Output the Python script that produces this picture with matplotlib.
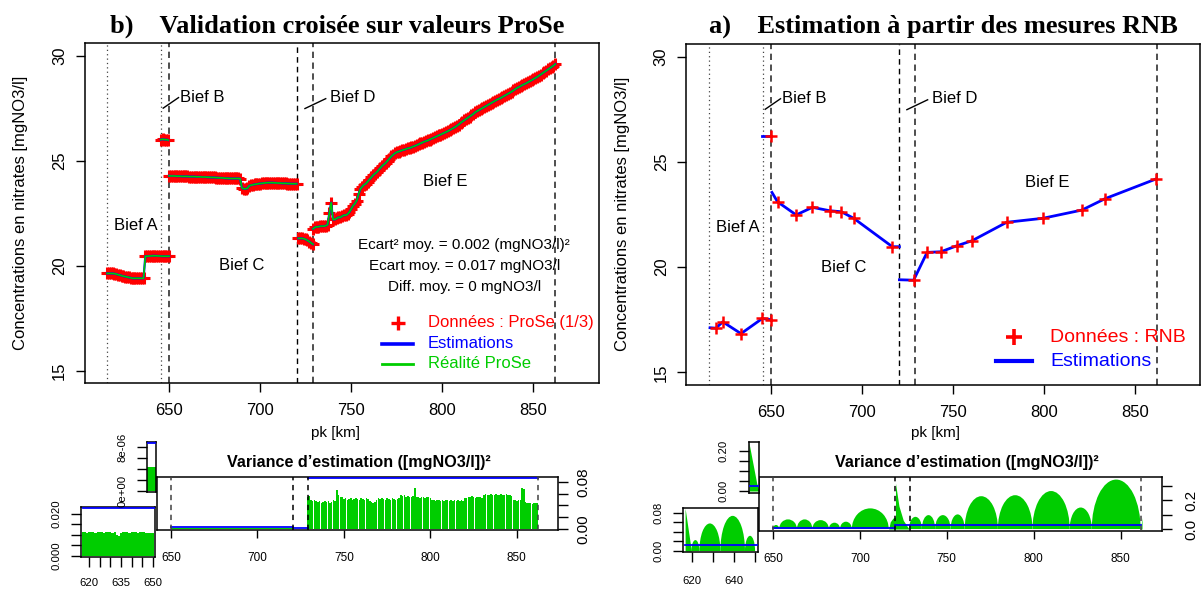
import numpy as np
import matplotlib as mpl
mpl.use('Agg')
import matplotlib.pyplot as plt
from matplotlib.lines import Line2D
from matplotlib.patches import Ellipse, Rectangle

plt.rcParams['font.family'] = 'sans-serif'
plt.rcParams['font.sans-serif'] = ['Liberation Sans', 'DejaVu Sans']
plt.rcParams['axes.linewidth'] = 1.1

RED = '#FF0000'
BLUE = '#0000FF'
GREEN = '#00CD00'

# ---------------- data ----------------
main_xticks = [650, 700, 750, 800, 850]
main_yticks = [15, 20, 25, 30]
bief_dotted = [616, 645.5]
bief_dashed = [650, 720.5, 729, 862]

# ProSe "reality" (1 value per km)
pro_A_pk = np.arange(616, 651)
pro_A = [19.63, 19.63, 19.63, 19.63, 19.62, 19.60, 19.57, 19.55, 19.52, 19.50,
         19.48, 19.46, 19.44, 19.42, 19.40, 19.40, 19.40, 19.40, 19.40, 19.40,
         19.40, 20.45, 20.45, 20.46, 20.46, 20.47, 20.47, 20.47, 20.46, 20.46,
         20.45, 20.45, 20.45, 20.45, 20.45]
pro_B_pk = [645.5, 646.5, 647.5, 648.5, 649.5]
pro_B = [26.0, 26.02, 26.0, 26.0, 25.98]
pro_C_pk = np.arange(650, 721)
pro_C = [24.28, 24.27, 24.27, 24.27, 24.26, 24.26, 24.26, 24.25, 24.25, 24.25,
         24.25, 24.24, 24.24, 24.24, 24.24, 24.23, 24.23, 24.23, 24.22, 24.22,
         24.22, 24.21, 24.21, 24.20, 24.20, 24.20, 24.19, 24.19, 24.18, 24.18,
         24.17, 24.16, 24.16, 24.15, 24.15, 24.15, 24.15, 24.15, 24.15, 24.14,
         23.70, 23.66, 23.66, 23.68, 23.80, 23.83, 23.85, 23.87, 23.88, 23.90,
         23.91, 23.92, 23.93, 23.94, 23.95, 23.95, 23.95, 23.95, 23.94, 23.94,
         23.93, 23.93, 23.92, 23.92, 23.92, 23.91, 23.91, 23.90, 23.90, 23.90,
         23.90]
pro_D_pk = np.arange(721, 730)
pro_D = [21.30, 21.30, 21.30, 21.28, 21.25, 21.20, 21.15, 21.08, 21.02]
pro_E_pk = np.arange(729, 863)
pro_E = [21.75, 21.82, 21.85, 21.85, 21.88, 21.88, 21.88, 21.90, 21.95, 22.50,
         23.00, 22.20, 22.20, 22.25, 22.30, 22.30, 22.35, 22.40, 22.40, 22.45,
         22.55, 22.70, 22.85, 22.95, 23.10, 23.40, 23.65, 23.75, 23.85, 23.90,
         24.00, 24.10, 24.20, 24.30, 24.38, 24.45, 24.55, 24.65, 24.75, 24.82,
         24.90, 25.00, 25.10, 25.20, 25.28, 25.35, 25.40, 25.43, 25.46, 25.50,
         25.52, 25.55, 25.58, 25.60, 25.63, 25.67, 25.70, 25.74, 25.78, 25.82,
         25.86, 25.90, 25.93, 25.96, 26.00, 26.04, 26.08, 26.12, 26.16, 26.20,
         26.24, 26.28, 26.32, 26.36, 26.40, 26.45, 26.50, 26.55, 26.60, 26.66,
         26.72, 26.80, 26.86, 26.92, 26.98, 27.04, 27.10, 27.16, 27.22, 27.30,
         27.35, 27.40, 27.45, 27.50, 27.55, 27.60, 27.65, 27.70, 27.75, 27.80,
         27.85, 27.90, 27.94, 27.98, 28.03, 28.08, 28.13, 28.18, 28.23, 28.28,
         28.34, 28.40, 28.46, 28.50, 28.55, 28.60, 28.64, 28.68, 28.73, 28.78,
         28.83, 28.88, 28.93, 28.98, 29.04, 29.10, 29.16, 29.22, 29.28, 29.34,
         29.40, 29.46, 29.52, 29.60]

# ProSe estimation variance
pro_varA_pk = np.arange(617, 651)
pro_varA = [0.0112, 0.0113, 0.0111, 0.0112, 0.0113, 0.0112, 0.0111, 0.0112, 0.0113, 0.0112,
            0.0111, 0.0112, 0.0113, 0.0112, 0.0111, 0.0112, 0.0100, 0.0094, 0.0110, 0.0112,
            0.0113, 0.0112, 0.0111, 0.0112, 0.0113, 0.0112, 0.0111, 0.0112, 0.0113, 0.0112,
            0.0111, 0.0110, 0.0108, 0.0107]
pro_varB_pk = [645.5, 646.5, 647.5, 648.5, 649.5]
pro_varB = [4.4e-6, 4.4e-6, 4.4e-6, 4.4e-6, 4.4e-6]
pro_varC_pk = [650, 720.5]
pro_varC = [0.001, 0.001]
pro_varE_pk = np.arange(729, 863)
pro_varE = [0.055, 0.056, 0.050, 0.048, 0.049, 0.047, 0.046, 0.047, 0.045, 0.046,
            0.048, 0.046, 0.047, 0.045, 0.046, 0.050, 0.048, 0.066, 0.058, 0.055,
            0.054, 0.051, 0.052, 0.050, 0.051, 0.052, 0.050, 0.051, 0.052, 0.051,
            0.050, 0.052, 0.051, 0.050, 0.052, 0.051, 0.048, 0.046, 0.045, 0.046,
            0.050, 0.052, 0.051, 0.052, 0.051, 0.050, 0.052, 0.051, 0.050, 0.052,
            0.051, 0.050, 0.051, 0.052, 0.058, 0.057, 0.058, 0.055, 0.056, 0.055,
            0.054, 0.056, 0.070, 0.054, 0.055, 0.053, 0.054, 0.055, 0.053, 0.054,
            0.055, 0.053, 0.049, 0.050, 0.048, 0.049, 0.050, 0.048, 0.049, 0.047,
            0.049, 0.050, 0.048, 0.049, 0.047, 0.049, 0.048, 0.050, 0.047, 0.049,
            0.048, 0.052, 0.053, 0.054, 0.055, 0.057, 0.054, 0.053, 0.054, 0.055,
            0.054, 0.053, 0.058, 0.059, 0.058, 0.058, 0.059, 0.058, 0.058, 0.059,
            0.058, 0.058, 0.059, 0.058, 0.058, 0.059, 0.058, 0.058, 0.057, 0.049,
            0.050, 0.048, 0.049, 0.050, 0.069, 0.068, 0.046, 0.044, 0.045, 0.044,
            0.043, 0.044, 0.045, 0.044]
pro_blue_A = ([617, 651], [0.023, 0.023])
pro_blue_B = ([645.5, 649.8], [8.8e-6, 8.8e-6])
pro_blue_C = ([650, 720.5], [0.003, 0.003])
pro_blue_D = ([720.5, 729], [0.0015, 0.0015])
pro_blue_E = ([729, 862], [0.087, 0.087])

# RNB measurements and estimations
rnb_pk = [619.7, 623.5, 633.5, 645.2, 650.0, 650.0, 653.6, 663.8, 672.7, 682.2, 688.6,
          695.4, 716.6, 728.3, 735.7, 743.3, 752.2, 760.3, 779.4, 799.3, 820.7, 833.4, 861.5]
rnb_val = [17.1, 17.4, 16.84, 17.56, 17.5, 26.25, 23.1, 22.48, 22.84, 22.68, 22.63,
           22.32, 20.97, 19.38, 20.7, 20.73, 21.02, 21.25, 22.13, 22.32, 22.71, 23.25, 24.19]
est_A_pk = [616.5, 619.7, 623.5, 633.5, 645.2, 650.0]
est_A = [17.12, 17.1, 17.4, 16.84, 17.56, 17.5]
est_B_pk = [645.3, 650.0]
est_B = [26.25, 26.25]
est_C_pk = [650.5, 653.6, 663.8, 672.7, 682.2, 688.6, 695.4, 716.6, 720.5]
est_C = [23.55, 23.1, 22.48, 22.84, 22.68, 22.63, 22.32, 20.97, 20.97]
est_DE_pk = [720.5, 728.3, 735.7, 743.3, 752.2, 760.3, 779.4, 799.3, 820.7, 833.4, 861.5]
est_DE = [19.4, 19.38, 20.7, 20.73, 21.02, 21.25, 22.13, 22.32, 22.71, 23.25, 24.19]

# RNB kriging variance: arches between stations
rnb_arch_start = [650.0, 653.6, 663.8, 672.7, 682.2, 688.6, 695.4, 728.3, 735.7, 743.3,
                  752.2, 760.3, 779.4, 799.3, 820.7, 833.4]
rnb_arch_end = [653.6, 663.8, 672.7, 682.2, 688.6, 695.4, 716.6, 735.7, 743.3, 752.2,
                760.3, 779.4, 799.3, 820.7, 833.4, 861.5]
rnb_arch_peak = [0.028, 0.067, 0.067, 0.062, 0.044, 0.051, 0.144, 0.085, 0.097, 0.097,
                 0.102, 0.229, 0.236, 0.265, 0.150, 0.345]
rnb_rise_pk = [716.6, 717.5, 719.0, 720.5]
rnb_rise = [0.0, 0.05, 0.075, 0.085]
rnb_spike_pk = [720.5, 722.5, 725.0, 728.3]
rnb_spike = [0.32, 0.16, 0.06, 0.0]
rnb_tail_pk = [861.5, 862.3]
rnb_tail = [0.0, 0.08]
rnbA_arch_start = [619.7, 623.5, 633.5, 645.2]
rnbA_arch_end = [623.5, 633.5, 645.2, 650.0]
rnbA_arch_peak = [0.023, 0.058, 0.074, 0.032]
rnbA_head_pk = [616.7, 619.7]
rnbA_head = [0.09, 0.0]
rnbB_pk = [645.3, 648.9, 650.0]
rnbB = [0.24, 0.04, 0.0]
rnb_blue_A = ([616.7, 651], [0.0126, 0.0126])
rnb_blue_B = ([645.3, 650.0], [0.023, 0.023])
rnb_blue_C = ([650, 720.5], [0.009, 0.009])
rnb_blue_E = ([720.5, 862], [0.026, 0.026])

stats_lines = ['Ecart² moy. = 0.002 (mgNO3/l)²', 'Ecart moy. = 0.017 mgNO3/l',
               'Diff. moy. = 0 mgNO3/l']

# ---------------- figure ----------------
W, H = 1203, 589
fig = plt.figure(figsize=(W / 100, H / 100), dpi=100)


def px_axes(x0, y0, x1, y1):
    return fig.add_axes([x0 / W, 1 - y1 / H, (x1 - x0) / W, (y1 - y0) / H])


def ftext(x, y, s, **kw):
    return fig.text(x / W, 1 - y / H, s, **kw)


def fline(xs, ys, **kw):
    fig.add_artist(Line2D([x / W for x in xs], [1 - y / H for y in ys],
                          transform=fig.transFigure, **kw))


def setup_main(ax, xlim):
    ax.set_xlim(xlim)
    ax.set_ylim(14.4, 30.6)
    ax.set_xticks(main_xticks)
    ax.set_yticks(main_yticks)
    ax.tick_params(length=6.5, width=1, labelsize=12)
    ax.tick_params(axis='x', pad=8)
    ax.tick_params(axis='y', pad=6, labelrotation=90)
    plt.setp(ax.get_yticklabels(), va='center')
    for pk in bief_dotted:
        ax.axvline(pk, color='#444444', lw=0.9, ls=(0, (1, 2.5)), zorder=1)
    for pk in bief_dashed:
        if pk == 720.5:
            ax.axvline(pk, color='black', lw=1.0, ls=(0, (4, 3)), zorder=1)
        else:
            ax.axvline(pk, color='#404040', lw=1.3, ls=(0, (3.5, 2.5)), zorder=1)
    ax.text(632, 21.9, 'Bief A', ha='center', va='center', fontsize=12)
    ax.text(690, 20.0, 'Bief C', ha='center', va='center', fontsize=12)
    ax.text(801.5, 24.0, 'Bief E', ha='center', va='center', fontsize=12)
    ax.text(655.8, 28.0, 'Bief B', ha='left', va='center', fontsize=12)
    ax.text(738.5, 28.0, 'Bief D', ha='left', va='center', fontsize=12)
    ax.plot([646.8, 655.2], [27.5, 28.0], color='black', lw=1)
    ax.plot([724.6, 736.0], [27.48, 27.95], color='black', lw=1)


def setup_lower(ax, ylim, yticks, ylabels, ypad):
    ax.set_xlim(642, 873.8)
    ax.set_ylim(ylim)
    ax.set_xticks(main_xticks)
    ax.yaxis.tick_right()
    ax.set_yticks(yticks)
    ax.set_yticklabels(ylabels)
    ax.tick_params(axis='x', length=6, width=1, labelsize=8.5, pad=10)
    ax.tick_params(axis='y', length=7, width=1, labelsize=11, pad=ypad, labelrotation=90)
    plt.setp(ax.get_yticklabels(), va='center')
    for pk in bief_dashed:
        c = 'black' if pk in (720.5, 729) else '#404040'
        ax.axvline(pk, color=c, lw=1.1, ls=(0, (3.5, 3)), zorder=5)


def setup_inset(ax, xlim, ylim, xticks, xlabels, yticks, ylabels, xpad, ypad):
    ax.set_xlim(xlim)
    ax.set_ylim(ylim)
    ax.set_xticks(xticks)
    ax.set_xticklabels(xlabels)
    ax.set_yticks(yticks)
    ax.set_yticklabels(ylabels)
    ax.tick_params(length=7, width=1, labelsize=8.2)
    ax.tick_params(axis='x', pad=xpad)
    ax.tick_params(axis='y', pad=ypad, labelrotation=90)
    plt.setp(ax.get_yticklabels(), va='center')


def arches(ax, starts, ends, peaks):
    clip = Rectangle((500, 0), 500, 5, transform=ax.transData)
    for a, b, p in zip(starts, ends, peaks):
        e = Ellipse(((a + b) / 2, 0), b - a, 2 * p, facecolor=GREEN,
                    edgecolor='none', lw=0, zorder=2)
        ax.add_patch(e)
        e.set_clip_path(clip)


# ===== left: b) cross validation on ProSe =====
axL = px_axes(84.5, 43, 599, 383.3)
setup_main(axL, (603.6, 886.0))
for pk, v in [(pro_A_pk, pro_A), (pro_B_pk, pro_B), (pro_C_pk, pro_C),
              (pro_D_pk, pro_D), (pro_E_pk, pro_E)]:
    axL.plot(pk, v, ls='none', marker='+', ms=9, mew=2.2, color=RED, zorder=2)
    axL.plot(pk, v, color=BLUE, lw=1.6, zorder=3)
    axL.plot(pk, v, color=GREEN, lw=1.2, zorder=4)
for i, s in enumerate(stats_lines):
    axL.text(812, 21 - i, s, ha='center', va='center', fontsize=11)

ftext(337, 33, 'b)    Validation croisée sur valeurs ProSe', ha='center', va='baseline',
      fontsize=19, fontweight='bold', family='Liberation Serif')
ftext(21, 213, 'Concentrations en nitrates [mgNO3/l]', rotation=90, ha='center',
      va='center', fontsize=12)
ftext(335.5, 432.5, 'pk [km]', ha='center', va='center', fontsize=11)

fline([397.6], [323], marker='+', ms=10, mew=2.4, color=RED, ls='none')
ftext(428, 323, 'Données : ProSe (1/3)', color=RED, fontsize=12, va='center')
fline([382, 413], [344, 344], color=BLUE, lw=2.6)
ftext(428, 344, 'Estimations', color=BLUE, fontsize=12, va='center')
fline([382, 413], [364, 364], color=GREEN, lw=2)
ftext(428, 364, 'Réalité ProSe', color=GREEN, fontsize=12, va='center')

# lower: variance (ProSe)
axLm = px_axes(157, 477, 558, 530)
setup_lower(axLm, (-0.0017, 0.0885), [0, 0.02, 0.04, 0.06, 0.08],
            ['0.00', '', '', '', '0.08'], 6)
axLm.bar(pro_varE_pk, pro_varE, width=0.88, color=GREEN, lw=0, zorder=2)
axLm.fill_between(pro_varC_pk, pro_varC, color=GREEN, lw=0, zorder=2)
for xs, ys in [pro_blue_C, pro_blue_D, pro_blue_E]:
    axLm.plot(xs, ys, color=BLUE, lw=1.3, zorder=3)
ftext(359, 466.7, 'Variance d\u2019estimation ([mgNO3/l])²', ha='center', va='baseline',
      fontsize=11.6, fontweight='bold')

axLa = px_axes(81, 507, 155, 557)
setup_inset(axLa, (616.2, 651.0), (-0.0005, 0.0233),
            [620, 625, 630, 635, 640, 645, 650], ['620', '', '', '635', '', '', '650'],
            [0, 0.005, 0.01, 0.015, 0.02], ['0.000', '', '', '', '0.020'], 8, 7)
axLa.bar(pro_varA_pk, pro_varA, width=1.0, color=GREEN, lw=0, zorder=2)
axLa.plot(*pro_blue_A, color=BLUE, lw=1.3, zorder=3)

axLb = px_axes(147, 442, 156, 492)
setup_inset(axLb, (645.5, 649.8), (-0.18e-6, 8.9e-6), [], [],
            [0, 2e-6, 4e-6, 6e-6, 8e-6], ['0e+00', '', '', '', '8e-06'], 4, 7)
axLb.bar(pro_varB_pk, pro_varB, width=1.0, color=GREEN, lw=0, zorder=2)
axLb.plot(*pro_blue_B, color=BLUE, lw=1.3, zorder=3)

# ===== right: a) estimation from RNB =====
axR = px_axes(686, 44, 1199.5, 385)
setup_main(axR, (603.3, 885.3))
for pk, v in [(est_A_pk, est_A), (est_B_pk, est_B), (est_C_pk, est_C), (est_DE_pk, est_DE)]:
    axR.plot(pk, v, color=BLUE, lw=2, zorder=3)
axR.plot(rnb_pk, rnb_val, ls='none', marker='+', ms=9, mew=1.8, color=RED, zorder=4)

ftext(943.5, 33, 'a)    Estimation à partir des mesures RNB', ha='center', va='baseline',
      fontsize=19, fontweight='bold', family='Liberation Serif')
ftext(623, 214, 'Concentrations en nitrates [mgNO3/l]', rotation=90, ha='center',
      va='center', fontsize=12)
ftext(936, 432.5, 'pk [km]', ha='center', va='center', fontsize=11)

fline([1014], [337], marker='+', ms=11, mew=2.6, color=RED, ls='none')
ftext(1050, 337, 'Données : RNB', color=RED, fontsize=14, va='center')
fline([996, 1032], [361, 361], color=BLUE, lw=3)
ftext(1050, 361, 'Estimations', color=BLUE, fontsize=14, va='center')

# lower: variance (RNB)
axRm = px_axes(759, 477, 1162, 531)
setup_lower(axRm, (-0.014, 0.363), [0, 0.1, 0.2, 0.3], ['0.0', '', '0.2', ''], 9)
arches(axRm, rnb_arch_start, rnb_arch_end, rnb_arch_peak)
axRm.fill_between(rnb_rise_pk, rnb_rise, color=GREEN, lw=0, zorder=2)
axRm.fill_between(rnb_spike_pk, rnb_spike, color=GREEN, lw=0, zorder=2)
axRm.fill_between(rnb_tail_pk, rnb_tail, color=GREEN, lw=0, zorder=2)
for xs, ys in [rnb_blue_C, rnb_blue_E]:
    axRm.plot(xs, ys, color=BLUE, lw=1.3, zorder=3)
ftext(967, 466.7, 'Variance d\u2019estimation ([mgNO3/l])²', ha='center', va='baseline',
      fontsize=11.6, fontweight='bold')

axRa = px_axes(683, 508, 758, 552)
setup_inset(axRa, (615.7, 651.4), (-0.0021, 0.0905),
            [620, 630, 640, 650], ['620', '', '640', ''],
            [0, 0.02, 0.04, 0.06, 0.08], ['0.00', '', '', '', '0.08'], 10, 7)
arches(axRa, rnbA_arch_start, rnbA_arch_end, rnbA_arch_peak)
axRa.fill_between(rnbA_head_pk, rnbA_head, color=GREEN, lw=0, zorder=2)
axRa.plot(*rnb_blue_A, color=BLUE, lw=1.3, zorder=3)

axRb = px_axes(749, 442, 759, 493)
setup_inset(axRb, (645.3, 650.0), (-0.01, 0.245), [], [],
            [0, 0.05, 0.1, 0.15, 0.2], ['0.00', '', '', '', '0.20'], 4, 8)
axRb.fill_between(rnbB_pk, rnbB, color=GREEN, lw=0, zorder=2)
axRb.plot(*rnb_blue_B, color=BLUE, lw=1.3, zorder=3)

fig.savefig('out.png', dpi=100)
